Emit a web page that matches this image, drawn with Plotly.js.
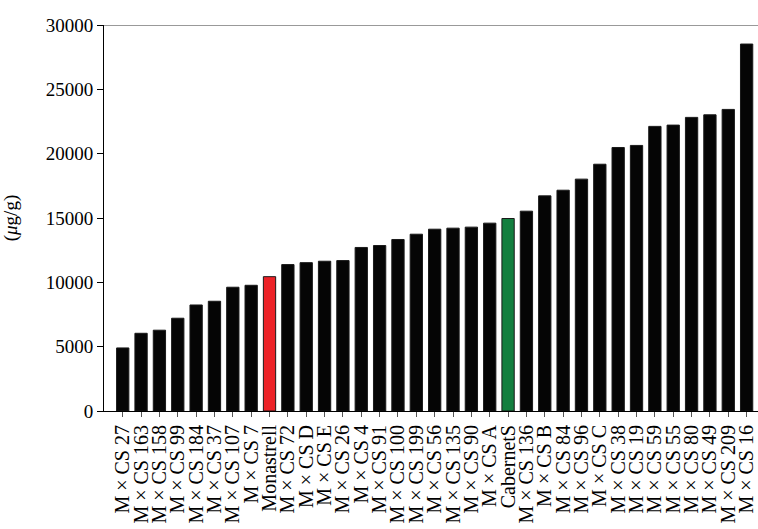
<!DOCTYPE html>
<html>
<head>
<meta charset="utf-8">
<script src="https://cdn.plot.ly/plotly-3.0.1.min.js"></script>
<style>
  html, body { margin: 0; padding: 0; background: #fff; }
  #chart { width: 758px; height: 529px; }
</style>
</head>
<body>
<div id="chart"></div>
<script>
// Genotypes, sorted by concentration
const genotypes = [
  "M × CS 27", "M × CS 163", "M × CS 158", "M × CS 99", "M × CS 184",
  "M × CS 37", "M × CS 107", "M × CS 7", "Monastrell", "M × CS 72",
  "M × CS D", "M × CS E", "M × CS 26", "M × CS 4", "M × CS 91",
  "M × CS 100", "M × CS 199", "M × CS 56", "M × CS 135", "M × CS 90",
  "M × CS A", "CabernetS", "M × CS 136", "M × CS B", "M × CS 84",
  "M × CS 96", "M × CS C", "M × CS 38", "M × CS 19", "M × CS 59",
  "M × CS 55", "M × CS 80", "M × CS 49", "M × CS 209", "M × CS 16"
];

// Concentration (µg/g)
const concentration = [
  4900, 6040, 6280, 7210, 8240,
  8530, 9620, 9770, 10440, 11380,
  11530, 11640, 11690, 12710, 12860,
  13330, 13740, 14130, 14210, 14290,
  14600, 14960, 15530, 16720, 17160,
  18020, 19180, 20480, 20640, 22120,
  22220, 22820, 23020, 23440, 28520
];

// Y-axis tick values
const yTicks = [0, 5000, 10000, 15000, 20000, 25000, 30000];

const parentColor = { "Monastrell": "#ec2227", "CabernetS": "#137f3f" };
const barColors = genotypes.map(g => parentColor[g] || "#050505");

const serif = "Liberation Serif, Times New Roman, serif";

const trace = {
  type: "bar",
  x: genotypes,
  y: concentration,
  marker: {
    color: barColors,
    line: { color: "#1a1a1a", width: 1 }
  },
  hoverinfo: "x+y"
};

const layout = {
  width: 758,
  height: 529,
  margin: { l: 104, r: 0, t: 25, b: 118 },
  paper_bgcolor: "#ffffff",
  plot_bgcolor: "#ffffff",
  bargap: 0.33,
  showlegend: false,
  font: { family: serif, color: "#000" },
  xaxis: {
    type: "category",
    range: [-1.02, 34.62],
    tickmode: "array",
    tickvals: genotypes,
    ticktext: genotypes,
    tickangle: -90,
    tickfont: { family: serif, size: 20, color: "#000" },
    ticks: "outside",
    ticklen: 5,
    tickcolor: "#555",
    showline: true,
    linecolor: "#000",
    linewidth: 1,
    showgrid: false,
    zeroline: false,
    automargin: false,
    fixedrange: true
  },
  yaxis: {
    range: [0, 30000],
    tickmode: "array",
    tickvals: yTicks,
    ticktext: yTicks.map(String),
    tickfont: { family: serif, size: 19, color: "#000" },
    ticks: "outside",
    ticklen: 6,
    tickcolor: "#000",
    showline: true,
    linecolor: "#000",
    linewidth: 1,
    showgrid: false,
    zeroline: false,
    automargin: false,
    title: {
      text: "(<i>μ</i>g/g)",
      font: { family: serif, size: 19, color: "#000" },
      standoff: 24
    },
    fixedrange: true
  },
  shapes: [
    {
      type: "line", xref: "paper", yref: "y",
      x0: 0, x1: 1, y0: 30000, y1: 30000,
      line: { color: "#777", width: 1.5 }
    }
  ]
};

Plotly.newPlot("chart", [trace], layout, { displayModeBar: false, staticPlot: true });
</script>
</body>
</html>
